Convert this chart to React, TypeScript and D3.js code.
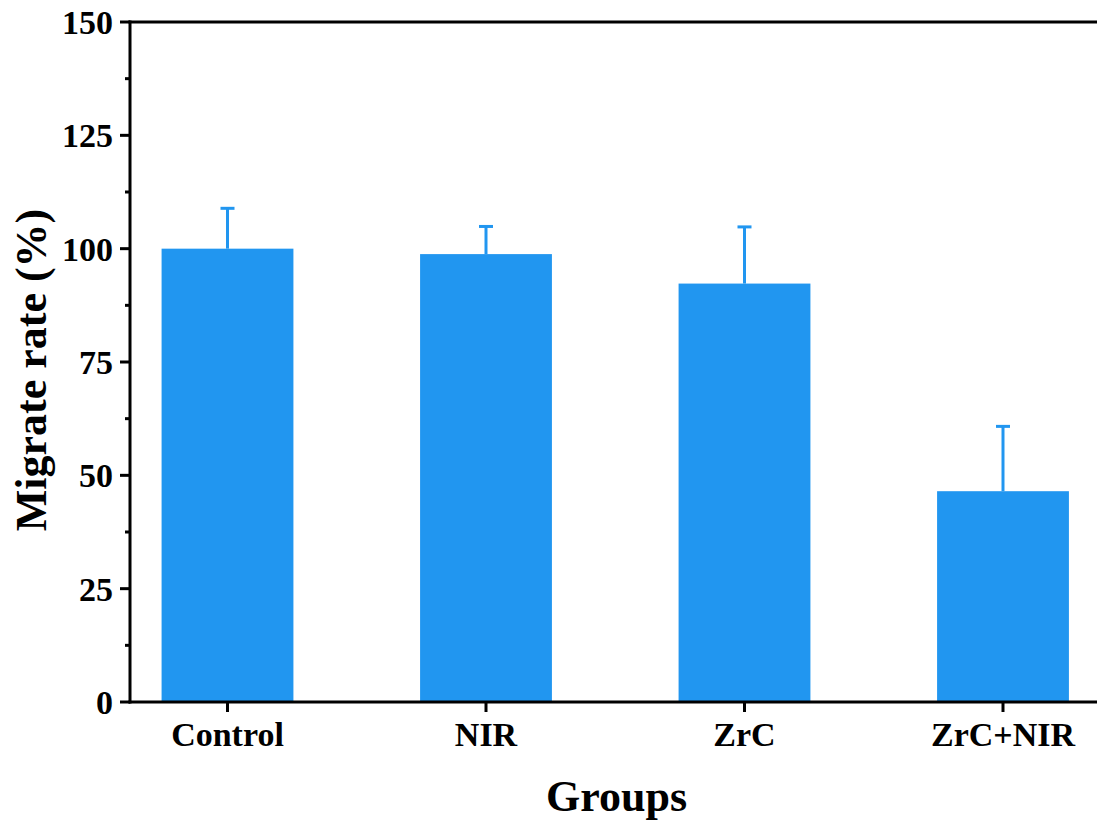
import React from 'react';
import * as d3 from 'd3';

const groups = ['Control', 'NIR', 'ZrC', 'ZrC+NIR'];
const rates = [100, 98.8, 92.3, 46.5];
const errors = [8.9, 6.1, 12.5, 14.3];
const yTicks = [0, 25, 50, 75, 100, 125, 150];

const W = 1097;
const H = 832;
const left = 130;
const top = 22;
const bottom = 702;

export default function App() {
  const y = d3.scaleLinear().domain([0, 150]).range([bottom, top]);
  // plot continues past the picture's right edge, like the original crop
  const x = d3.scaleLinear().domain([0, 3]).range([227.5, 1003]);
  const barW = (x(1) - x(0)) * 0.51;
  const minor = d3.range(12.5, 150, 25);
  const font = '"Liberation Serif", "Times New Roman", serif';
  const blue = '#2196f0';

  return (
    <svg width={W} height={H} style={{ position: 'absolute', left: 0, top: 0 }}>
      <rect width={W} height={H} fill="#fff" />
      {rates.map((v, i) => (
        <g key={groups[i]}>
          <rect x={x(i) - barW / 2} y={y(v)} width={barW} height={y(0) - y(v)} fill={blue} />
          <line x1={x(i)} x2={x(i)} y1={y(v)} y2={y(v + errors[i])} stroke={blue} strokeWidth={3} />
          <line x1={x(i) - 7} x2={x(i) + 7} y1={y(v + errors[i])} y2={y(v + errors[i])} stroke={blue} strokeWidth={3} />
        </g>
      ))}

      {/* axes frame */}
      <line x1={left} x2={left} y1={top - 1.5} y2={bottom + 1.5} stroke="#000" strokeWidth={3} />
      <line x1={left - 1.5} x2={W} y1={bottom} y2={bottom} stroke="#000" strokeWidth={3} />
      <line x1={left - 1.5} x2={W} y1={top} y2={top} stroke="#000" strokeWidth={3} />

      {yTicks.map(t => (
        <g key={t}>
          <line x1={left - 10} x2={left} y1={y(t)} y2={y(t)} stroke="#000" strokeWidth={3} />
          <text x={left - 17} y={y(t)} dy="0.35em" textAnchor="end" fontFamily={font} fontWeight="bold" fontSize={34}>
            {t}
          </text>
        </g>
      ))}
      {minor.map(t => (
        <line key={t} x1={left - 5} x2={left} y1={y(t)} y2={y(t)} stroke="#000" strokeWidth={3} />
      ))}

      {groups.map((g, i) => (
        <g key={g}>
          <line x1={x(i)} x2={x(i)} y1={bottom} y2={bottom + 10} stroke="#000" strokeWidth={3} />
          <text x={x(i)} y={bottom + 44} textAnchor="middle" fontFamily={font} fontWeight="bold" fontSize={34}>
            {g}
          </text>
        </g>
      ))}

      <text x={616.5} y={811} textAnchor="middle" fontFamily={font} fontWeight="bold" fontSize={44}>
        Groups
      </text>
      <text
        transform={`translate(46, 370) rotate(-90)`}
        textAnchor="middle"
        fontFamily={font}
        fontWeight="bold"
        fontSize={44}
      >
        Migrate rate (%)
      </text>
    </svg>
  );
}
